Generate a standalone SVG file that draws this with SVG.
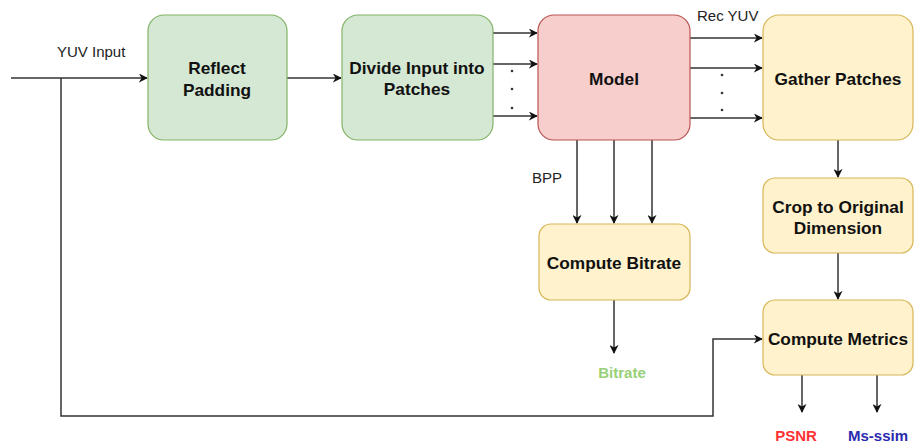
<svg xmlns="http://www.w3.org/2000/svg" width="914" height="445" viewBox="0 0 914 445">
  <defs>
    <marker id="arr" viewBox="0 0 10 10" refX="9" refY="5" markerWidth="9" markerHeight="9" markerUnits="userSpaceOnUse" orient="auto">
      <path d="M0,0 L10,5 L0,10 L3,5 Z" fill="#111"/>
    </marker>
  </defs>
  <style>
    .green { fill: #d5e8d4; stroke: #82b366; stroke-width: 1.2; }
    .red { fill: #f8cecc; stroke: #b85450; stroke-width: 1.2; }
    .yellow { fill: #fff2cc; stroke: #d6b656; stroke-width: 1.2; }
    .title { font-family: "Liberation Sans", Arial, sans-serif; font-weight: bold; font-size: 17.3px; fill: #111; text-anchor: middle; }
    .label { font-family: "Liberation Sans", Arial, sans-serif; font-size: 15px; fill: #222; }
    .out { font-family: "Liberation Sans", Arial, sans-serif; font-weight: bold; font-size: 15px; text-anchor: middle; }
    .edge { fill: none; stroke: #333; stroke-width: 1.5; }
    .dot { fill: #333; }
  </style>
  <rect width="914" height="445" fill="#ffffff"/>

  <!-- connectors -->
  <g id="connectors">
    <path class="edge" d="M11,78 H147" marker-end="url(#arr)"/>
    <path class="edge" d="M61,78 V416 H713 V339 H762" marker-end="url(#arr)"/>
    <path class="edge" d="M287,78 H341" marker-end="url(#arr)"/>
    <path class="edge" d="M493,33 H537" marker-end="url(#arr)"/>
    <path class="edge" d="M493,64 H537" marker-end="url(#arr)"/>
    <path class="edge" d="M493,116 H537" marker-end="url(#arr)"/>
    <path class="edge" d="M690,38 H762" marker-end="url(#arr)"/>
    <path class="edge" d="M690,68 H762" marker-end="url(#arr)"/>
    <path class="edge" d="M690,118 H762" marker-end="url(#arr)"/>
    <path class="edge" d="M577,140 V223" marker-end="url(#arr)"/>
    <path class="edge" d="M614,140 V223" marker-end="url(#arr)"/>
    <path class="edge" d="M652,140 V223" marker-end="url(#arr)"/>
    <path class="edge" d="M614,300 V353" marker-end="url(#arr)"/>
    <path class="edge" d="M838,140 V177" marker-end="url(#arr)"/>
    <path class="edge" d="M838,253 V299" marker-end="url(#arr)"/>
    <path class="edge" d="M802,375 V412" marker-end="url(#arr)"/>
    <path class="edge" d="M877,375 V412" marker-end="url(#arr)"/>
    <!-- ellipsis marks between parallel patch arrows -->
    <circle class="dot" cx="512" cy="71" r="1.3"/>
    <circle class="dot" cx="512" cy="89" r="1.3"/>
    <circle class="dot" cx="512" cy="108" r="1.3"/>
    <circle class="dot" cx="722" cy="75" r="1.3"/>
    <circle class="dot" cx="722" cy="93" r="1.3"/>
    <circle class="dot" cx="722" cy="110" r="1.3"/>
    <text class="label" x="57" y="57">YUV Input</text>
    <text class="label" x="697" y="21">Rec YUV</text>
    <text class="label" x="532" y="183">BPP</text>
  </g>

  <g id="reflect-padding">
    <rect class="green" x="148" y="15" width="139" height="125" rx="16"/>
    <text class="title" x="217" y="74">Reflect</text>
    <text class="title" x="217" y="96">Padding</text>
  </g>

  <g id="divide-patches">
    <rect class="green" x="342" y="15" width="151" height="125" rx="16"/>
    <text class="title" x="417" y="74">Divide Input into</text>
    <text class="title" x="417" y="95">Patches</text>
  </g>

  <g id="model">
    <rect class="red" x="538" y="15" width="152" height="125" rx="16"/>
    <text class="title" x="614" y="85">Model</text>
  </g>

  <g id="gather-patches">
    <rect class="yellow" x="763" y="15" width="150" height="125" rx="16"/>
    <text class="title" x="838" y="85">Gather Patches</text>
  </g>

  <g id="crop-original">
    <rect class="yellow" x="763" y="178" width="150" height="75" rx="12"/>
    <text class="title" x="838" y="213">Crop to Original</text>
    <text class="title" x="838" y="234">Dimension</text>
  </g>

  <g id="compute-bitrate">
    <rect class="yellow" x="539" y="224" width="151" height="76" rx="12"/>
    <text class="title" x="614" y="269">Compute Bitrate</text>
  </g>

  <g id="compute-metrics">
    <rect class="yellow" x="763" y="300" width="150" height="75" rx="12"/>
    <text class="title" x="838" y="345">Compute Metrics</text>
  </g>

  <g id="outputs">
    <text class="out" x="622" y="378" fill="#97d077">Bitrate</text>
    <text class="out" x="796" y="441" fill="#ff3333">PSNR</text>
    <text class="out" x="878" y="441" fill="#2b2bb0">Ms-ssim</text>
  </g>
</svg>
